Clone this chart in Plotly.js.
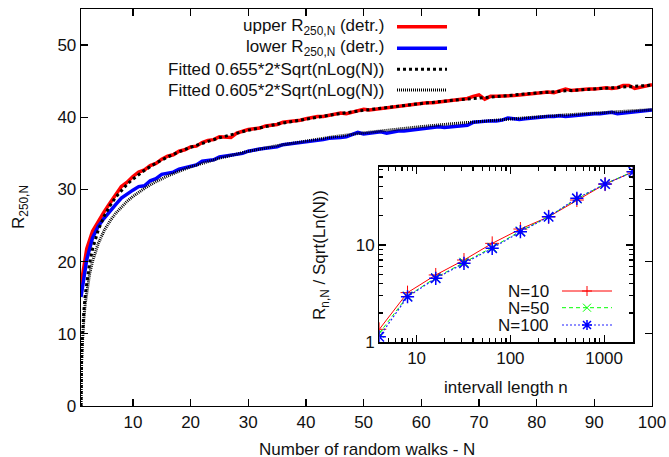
<!DOCTYPE html>
<html><head><meta charset="utf-8">
<script src="https://cdn.plot.ly/plotly-3.0.1.min.js"></script>
<style>html,body{margin:0;padding:0;background:#fff}#chart{width:669px;height:457px}</style>
</head><body><div id="chart"></div><script>
// ---- data ----
const walksN = [1,2,3,4,5,6,7,8,9,10,11,12,13,14,15,16,17,18,19,20,21,22,23,24,25,26,27,28,29,30,31,32,33,34,35,36,37,38,39,40,41,42,43,44,45,46,47,48,49,50,51,52,53,54,55,56,57,58,59,60,61,62,63,64,65,66,67,68,69,70,71,72,73,74,75,76,77,78,79,80,81,82,83,84,85,86,87,88,89,90,91,92,93,94,95,96,97,98,99,100];
const upperR = [16.8,21.8,24.2,25.6,26.9,28.1,29.3,30.4,31.0,31.8,32.4,32.7,33.3,33.6,34.2,34.6,34.8,35.3,35.5,35.9,36.0,36.5,36.8,36.9,37.3,37.3,37.2,37.8,38.1,38.3,38.4,38.5,38.8,38.9,39.0,39.3,39.4,39.4,39.6,39.8,40.0,40.1,40.1,40.3,40.5,40.6,40.5,40.7,40.9,41.1,41.0,41.1,41.3,41.4,41.4,41.5,41.7,41.7,41.8,41.9,42.0,42.0,42.1,42.2,42.3,42.4,42.5,42.6,42.9,43.1,42.5,42.9,42.9,42.9,43.0,43.0,43.1,43.2,43.3,43.3,43.4,43.5,43.4,43.6,43.9,43.7,43.8,43.8,43.9,43.9,44.0,44.1,44.0,44.1,44.4,44.4,44.0,44.2,44.3,44.5];
const lowerR = [15.1,20.3,23.3,24.9,26.0,27.0,27.9,28.8,29.4,29.9,30.4,30.5,31.2,31.5,32.1,32.3,32.4,32.8,33.0,33.3,33.4,33.9,34.0,34.1,34.5,34.6,34.8,34.9,35.0,35.3,35.5,35.6,35.7,35.8,35.9,36.2,36.3,36.3,36.5,36.6,36.7,36.8,36.9,37.1,37.1,37.2,37.3,37.6,37.9,37.7,37.8,37.9,38.0,37.8,38.0,38.1,38.1,38.2,38.3,38.3,38.4,38.5,38.7,38.6,38.7,38.8,38.8,38.9,39.3,39.4,39.4,39.5,39.5,39.6,39.9,39.8,39.7,39.8,39.9,40.0,40.0,40.1,40.1,40.2,40.1,40.2,40.3,40.3,40.4,40.5,40.5,40.6,40.7,40.5,40.6,40.7,40.7,40.8,40.9,41.0];
const fitN = [1,1.01,1.02,1.05,1.1,1.2,1.35,1.5,1.75,2,2.5,3,3.5,4,5,6,7,8,9,10,12,14,16,18,20,25,30,35,40,45,50,55,60,65,70,75,80,85,90,95,100];
const fitUpper = [0,2.07,2.91,4.58,6.39,8.84,11.35,13.19,15.50,17.24,19.83,21.71,23.19,24.39,26.28,27.72,28.90,29.87,30.71,31.43,32.65,33.65,34.49,35.21,35.85,37.16,38.20,39.05,39.78,40.41,40.96,41.46,41.91,42.31,42.69,43.03,43.36,43.66,43.94,44.20,44.45];
const fitLower = [0,1.91,2.69,4.23,5.91,8.17,10.48,12.18,14.31,15.92,18.32,20.05,21.42,22.53,24.27,25.60,26.69,27.59,28.36,29.03,30.15,31.08,31.86,32.52,33.12,34.33,35.28,36.07,36.75,37.33,37.84,38.30,38.71,39.08,39.43,39.75,40.05,40.33,40.58,40.83,41.06];
const intervalN = [4,8,16,32,64,128,256,512,1024,2048];
const insetN10 = [1.36,3.24,4.92,7.01,10.4,14.6,19.5,29.0,42.3,56.6];
const insetN50 = [1.24,2.98,4.62,6.65,9.45,13.9,19.6,29.8,42.5,57.0];
const insetN100 = [1.14,2.94,4.55,6.48,9.25,13.7,19.5,30.2,42.3,56.6];
const mainNames = ['upper R<sub>250,N</sub> (detr.)','lower R<sub>250,N</sub> (detr.)','Fitted 0.655*2*Sqrt(nLog(N))','Fitted 0.605*2*Sqrt(nLog(N))'];
const insetNames = ['N=10','N=50','N=100'];
const xTicks = [10,20,30,40,50,60,70,80,90,100];
const yTicks = [0,10,20,30,40,50];

// ---- layout helpers ----
const FONT = 'Liberation Sans, Arial, Helvetica, sans-serif';
const L=81, R=652, T=9, B=406;
const px = x => (x-L)/(R-L);
const py = y => (B-y)/(B-T);

const traces = [
  {x:walksN, y:upperR, name:mainNames[0], mode:'lines', line:{color:'#ff0000', width:3.5}, showlegend:false, xaxis:'x', yaxis:'y'},
  {x:walksN, y:lowerR, name:mainNames[1], mode:'lines', line:{color:'#0000ff', width:3.5}, showlegend:false, xaxis:'x', yaxis:'y'},
  {x:fitN, y:fitUpper, name:mainNames[2], mode:'lines', line:{color:'#000', width:3, dash:'3px,3px'}, showlegend:false, xaxis:'x', yaxis:'y'},
  {x:fitN, y:fitLower, name:mainNames[3], mode:'lines', line:{color:'#000', width:3, dash:'1px,1px'}, showlegend:false, xaxis:'x', yaxis:'y'},
  {x:intervalN, y:insetN10, name:insetNames[0], mode:'lines+markers', line:{color:'#ff0000', width:1},
   marker:{symbol:'cross-thin', size:10, line:{color:'#ff0000', width:1}}, showlegend:false, xaxis:'x2', yaxis:'y2'},
  {x:intervalN, y:insetN50, name:insetNames[1], mode:'lines+markers', line:{color:'#00ff00', width:1, dash:'4px,3px'},
   marker:{symbol:'x-thin', size:9, line:{color:'#00ff00', width:1}}, showlegend:false, xaxis:'x2', yaxis:'y2'},
  {x:intervalN, y:insetN100, name:insetNames[2], mode:'lines+markers', line:{color:'#2020ff', width:1.2, dash:'2px,2px'},
   marker:{symbol:'asterisk', size:11, line:{color:'#0000ff', width:1.5}}, showlegend:false, xaxis:'x2', yaxis:'y2'}
];

const axisBase = {showline:true, linecolor:'#000', linewidth:1.3, mirror:'ticks', ticks:'inside', ticklen:7, tickcolor:'#000', tickwidth:1.2,
  showgrid:false, zeroline:false, tickfont:{family:FONT, size:17, color:'#111'}};

const shapes = [];
const annotations = [];
// main legend
const legRows = [26.7, 48.3, 69.3, 90];
const legStyles = [
  {color:'#ff0000', width:3.5, dash:'solid'},
  {color:'#0000ff', width:3.5, dash:'solid'},
  {color:'#000', width:3, dash:'3px,3px'},
  {color:'#000', width:3, dash:'1px,1px'}
];
mainNames.forEach((t,i)=>{
  annotations.push({text:t, xref:'paper', yref:'paper', x:px(386), y:py(legRows[i]), xanchor:'right', yanchor:'middle', height:20, valign:'middle', showarrow:false, font:{family:FONT, size:17, color:'#111'}});
  shapes.push({type:'line', xref:'paper', yref:'paper', x0:px(397), x1:px(447), y0:py(legRows[i]), y1:py(legRows[i]), line:legStyles[i]});
});
// inset legend
const insRows = [291, 307.7, 325];
const insStyles = [
  {color:'#ff0000', width:1, dash:'solid'},
  {color:'#00ff00', width:1, dash:'4px,3px'},
  {color:'#2020ff', width:1.2, dash:'2px,2px'}
];
const insMarkers = [
  {path:'M-5,0L5,0M0,-5L0,5', color:'#ff0000', w:1},
  {path:'M-4,-4L4,4M-4,4L4,-4', color:'#00ff00', w:1},
  {path:'M-5,0L5,0M0,-5L0,5M-4,-4L4,4M-4,4L4,-4', color:'#0000ff', w:1.5}
];
insetNames.forEach((t,i)=>{
  annotations.push({text:t, xref:'paper', yref:'paper', x:px(551), y:py(insRows[i]), xanchor:'right', yanchor:'middle', height:16, valign:'middle', showarrow:false, font:{family:FONT, size:17, color:'#111'}});
  shapes.push({type:'line', xref:'paper', yref:'paper', x0:px(562), x1:px(612), y0:py(insRows[i]), y1:py(insRows[i]), line:insStyles[i]});
  shapes.push({type:'path', xref:'paper', yref:'paper', xsizemode:'pixel', ysizemode:'pixel', xanchor:px(587), yanchor:py(insRows[i]),
    path:insMarkers[i].path, line:{color:insMarkers[i].color, width:insMarkers[i].w}});
});
// axis titles
annotations.push({text:'Number of random walks - N', xref:'paper', yref:'paper', x:px(366.5), y:py(449), xanchor:'center', yanchor:'middle', height:16, valign:'middle', showarrow:false, font:{family:FONT, size:17, color:'#111'}});
annotations.push({text:'R<sub>250,N</sub>', xref:'paper', yref:'paper', x:px(20), y:py(207), xanchor:'center', yanchor:'middle', textangle:-90, showarrow:false, font:{family:FONT, size:17, color:'#111'}});
annotations.push({text:'intervall length n', xref:'paper', yref:'paper', x:px(506), y:py(387), xanchor:'center', yanchor:'middle', showarrow:false, font:{family:FONT, size:17, color:'#111'}});
annotations.push({text:'R<sub>n,N</sub> / Sqrt(Ln(N))', xref:'paper', yref:'paper', x:px(321), y:py(255), xanchor:'center', yanchor:'middle', textangle:-90, showarrow:false, font:{family:FONT, size:17, color:'#111'}});

const insetX0 = px(379.3), insetX1 = px(633.3), insetY0 = py(342.3), insetY1 = py(166.7);

const layout = {
  width:669, height:457, paper_bgcolor:'#fff', plot_bgcolor:'rgba(0,0,0,0)',
  margin:{l:L, r:669-R, t:T, b:457-B},
  showlegend:false,
  xaxis: Object.assign({}, axisBase, {range:[1,100], tickmode:'array', tickvals:xTicks, domain:[0,1], anchor:'y'}),
  yaxis: Object.assign({}, axisBase, {range:[0,55], tickmode:'array', tickvals:yTicks, domain:[0,1], anchor:'x'}),
  xaxis2: Object.assign({}, axisBase, {type:'log', range:[Math.log10(4), Math.log10(2048)], dtick:1, tick0:0,
    minor:{ticks:'inside', ticklen:4, tickcolor:'#000', dtick:'D1', showgrid:false},
    domain:[insetX0, insetX1], anchor:'y2'}),
  yaxis2: Object.assign({}, axisBase, {type:'log', range:[0, 1.805], dtick:1, tick0:0,
    minor:{ticks:'inside', ticklen:4, tickcolor:'#000', dtick:'D1', showgrid:false},
    domain:[insetY0, insetY1], anchor:'x2'}),
  shapes: shapes,
  annotations: annotations,
  font:{family:FONT, size:17, color:'#111'}
};

Plotly.newPlot('chart', traces, layout, {displayModeBar:false, staticPlot:true});
</script></body></html>
